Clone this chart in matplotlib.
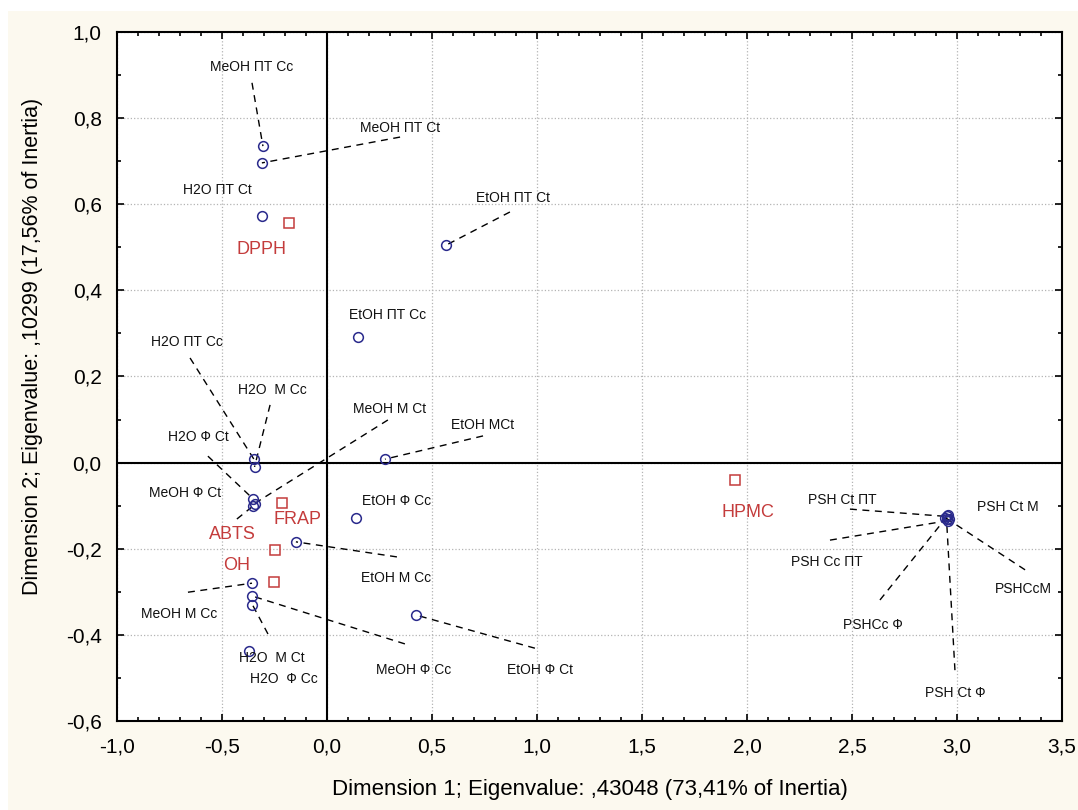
import matplotlib
matplotlib.use("Agg")
import matplotlib.pyplot as plt
from matplotlib.ticker import MultipleLocator, FuncFormatter
from matplotlib.patches import Rectangle

# row points (extracts), blue circles
row_names = [
    "MeOH ПТ Cc", "MeOH ПТ Ct", "H2O ПТ Ct", "EtOH ПТ Ct", "EtOH ПТ Cc",
    "H2O ПТ Cc", "H2O  М Cc", "H2O Ф Ct", "MeOH M Ct", "MeOH Ф Ct",
    "EtOH MCt", "EtOH Ф Cc", "EtOH M Cc", "MeOH M Cc", "MeOH Ф Cc",
    "H2O  Ф Cc", "H2O  M Ct", "EtOH Ф Ct",
    "PSH Ct ПТ", "PSH Ct M", "PSH Cc ПТ", "PSHCcM", "PSHCc Ф", "PSH Ct Ф",
]
row_x = [
    -0.305, -0.31, -0.31, 0.567, 0.148,
    -0.348, -0.345, -0.35, -0.345, -0.35,
    0.276, 0.138, -0.148, -0.357, -0.355,
    -0.355, -0.371, 0.424,
    2.95, 2.96, 2.955, 2.945, 2.958, 2.95,
]
row_y = [
    0.735, 0.696, 0.573, 0.505, 0.292,
    0.008, -0.010, -0.085, -0.095, -0.100,
    0.008, -0.129, -0.184, -0.280, -0.310,
    -0.330, -0.437, -0.354,
    -0.125, -0.130, -0.135, -0.128, -0.122, -0.132,
]

# column points (assays), red squares
col_names = ["DPPH", "FRAP", "ABTS", "OH", "HPMC"]
col_x = [-0.181, -0.214, -0.248, -0.252, 1.943]
col_y = [0.556, -0.094, -0.203, -0.277, -0.040]

# label placement (data coords) and where the leader line starts
row_label_pos = {
    "MeOH ПТ Cc": (-0.357, 0.919), "MeOH ПТ Ct": (0.348, 0.777),
    "H2O ПТ Ct": (-0.524, 0.633), "EtOH ПТ Ct": (0.886, 0.614),
    "EtOH ПТ Cc": (0.290, 0.343), "H2O ПТ Cc": (-0.667, 0.280),
    "H2O  М Cc": (-0.262, 0.169), "MeOH M Ct": (0.300, 0.124),
    "EtOH MCt": (0.743, 0.087), "H2O Ф Ct": (-0.614, 0.059),
    "MeOH Ф Ct": (-0.676, -0.071), "EtOH Ф Cc": (0.333, -0.089),
    "EtOH M Cc": (0.329, -0.268), "MeOH M Cc": (-0.705, -0.352),
    "H2O  M Ct": (-0.262, -0.454), "H2O  Ф Cc": (-0.205, -0.503),
    "MeOH Ф Cc": (0.414, -0.482), "EtOH Ф Ct": (1.014, -0.482),
    "PSH Ct ПТ": (2.452, -0.087), "PSH Ct M": (3.243, -0.103),
    "PSH Cc ПТ": (2.381, -0.231), "PSHCcM": (3.314, -0.294),
    "PSHCc Ф": (2.600, -0.377), "PSH Ct Ф": (2.990, -0.535),
}
leader_start = {
    "MeOH ПТ Cc": (-0.357, 0.882), "MeOH ПТ Ct": (0.348, 0.756),
    "EtOH ПТ Ct": (0.871, 0.582), "H2O ПТ Cc": (-0.652, 0.243),
    "H2O  М Cc": (-0.271, 0.134), "MeOH M Ct": (0.290, 0.099),
    "EtOH MCt": (0.743, 0.062), "H2O Ф Ct": (-0.567, 0.015),
    "MeOH Ф Ct": (-0.429, -0.131), "EtOH M Cc": (0.333, -0.219),
    "MeOH M Cc": (-0.662, -0.301), "MeOH Ф Cc": (0.371, -0.421),
    "H2O  Ф Cc": (-0.281, -0.398), "EtOH Ф Ct": (0.990, -0.431),
    "PSH Ct ПТ": (2.490, -0.108), "PSH Cc ПТ": (2.395, -0.180),
    "PSHCcM": (3.324, -0.249), "PSHCc Ф": (2.633, -0.319),
    "PSH Ct Ф": (2.990, -0.482),
}
col_label_pos = {
    "DPPH": (-0.310, 0.496), "FRAP": (-0.138, -0.131),
    "ABTS": (-0.452, -0.166), "OH": (-0.429, -0.238),
    "HPMC": (2.005, -0.115),
}

cream = "#fcf9ef"
font = "Liberation Sans"

fig = plt.figure(figsize=(10.78, 8.10), dpi=100, facecolor=cream)
fig.add_artist(Rectangle((0, 0.986), 1, 0.014, transform=fig.transFigure,
                         facecolor="white", edgecolor="none"))
fig.add_artist(Rectangle((0, 0), 0.0074, 1, transform=fig.transFigure,
                         facecolor="white", edgecolor="none"))
ax = fig.add_axes([0.1085, 0.1099, 0.8767, 0.8506])
ax.set_facecolor("white")

ax.set_xlim(-1.0, 3.5)
ax.set_ylim(-0.6, 1.0)
ax.xaxis.set_major_locator(MultipleLocator(0.5))
ax.xaxis.set_minor_locator(MultipleLocator(0.1))
ax.yaxis.set_major_locator(MultipleLocator(0.2))
ax.yaxis.set_minor_locator(MultipleLocator(0.1))
fmt = FuncFormatter(lambda v, p: f"{v:.1f}".replace(".", ","))
ax.xaxis.set_major_formatter(fmt)
ax.yaxis.set_major_formatter(fmt)
ax.tick_params(which="both", direction="in", top=True, right=True, width=1.2)
ax.tick_params(which="major", length=5, labelsize=15)
ax.tick_params(axis="x", which="major", pad=12)
ax.tick_params(axis="y", which="major", pad=11)
ax.tick_params(which="minor", length=3)
for lab in ax.get_xticklabels() + ax.get_yticklabels():
    lab.set_family(font)
for s in ax.spines.values():
    s.set_linewidth(1.5)

ax.grid(True, which="major", linestyle=":", color="#b4b4b4", linewidth=0.9)
ax.set_axisbelow(True)
ax.axhline(0, color="black", linewidth=1.5, zorder=1)
ax.axvline(0, color="black", linewidth=1.5, zorder=1)

# leader lines
for name, (sx, sy) in leader_start.items():
    i = row_names.index(name)
    ax.plot([sx, row_x[i]], [sy, row_y[i]], color="black", linestyle=(0, (5, 4)),
            linewidth=1.0, zorder=2)

ax.plot(row_x, row_y, "o", markersize=7, markerfacecolor="none",
        markeredgecolor="#2a2a8c", markeredgewidth=1.1, zorder=3)
ax.plot(col_x, col_y, "s", markersize=7, markerfacecolor="none",
        markeredgecolor="#c43c3c", markeredgewidth=1.1, zorder=3)

for name in row_names:
    lx, ly = row_label_pos[name]
    ax.text(lx, ly, name, fontsize=10, family=font, color="#111111",
            ha="center", va="center", zorder=4)
for name in col_names:
    lx, ly = col_label_pos[name]
    ax.text(lx, ly, name, fontsize=13, family=font,
            color="#c43c3c", ha="center", va="center", zorder=4)

ax.set_xlabel("Dimension 1; Eigenvalue: ,43048 (73,41% of Inertia)",
              fontsize=16, family=font, labelpad=16)
ax.set_ylabel("Dimension 2; Eigenvalue: ,10299 (17,56% of Inertia)",
              fontsize=15.5, family=font)
ax.yaxis.set_label_coords(-0.078, 0.544)

fig.savefig("out.png", dpi=100, facecolor=cream)
